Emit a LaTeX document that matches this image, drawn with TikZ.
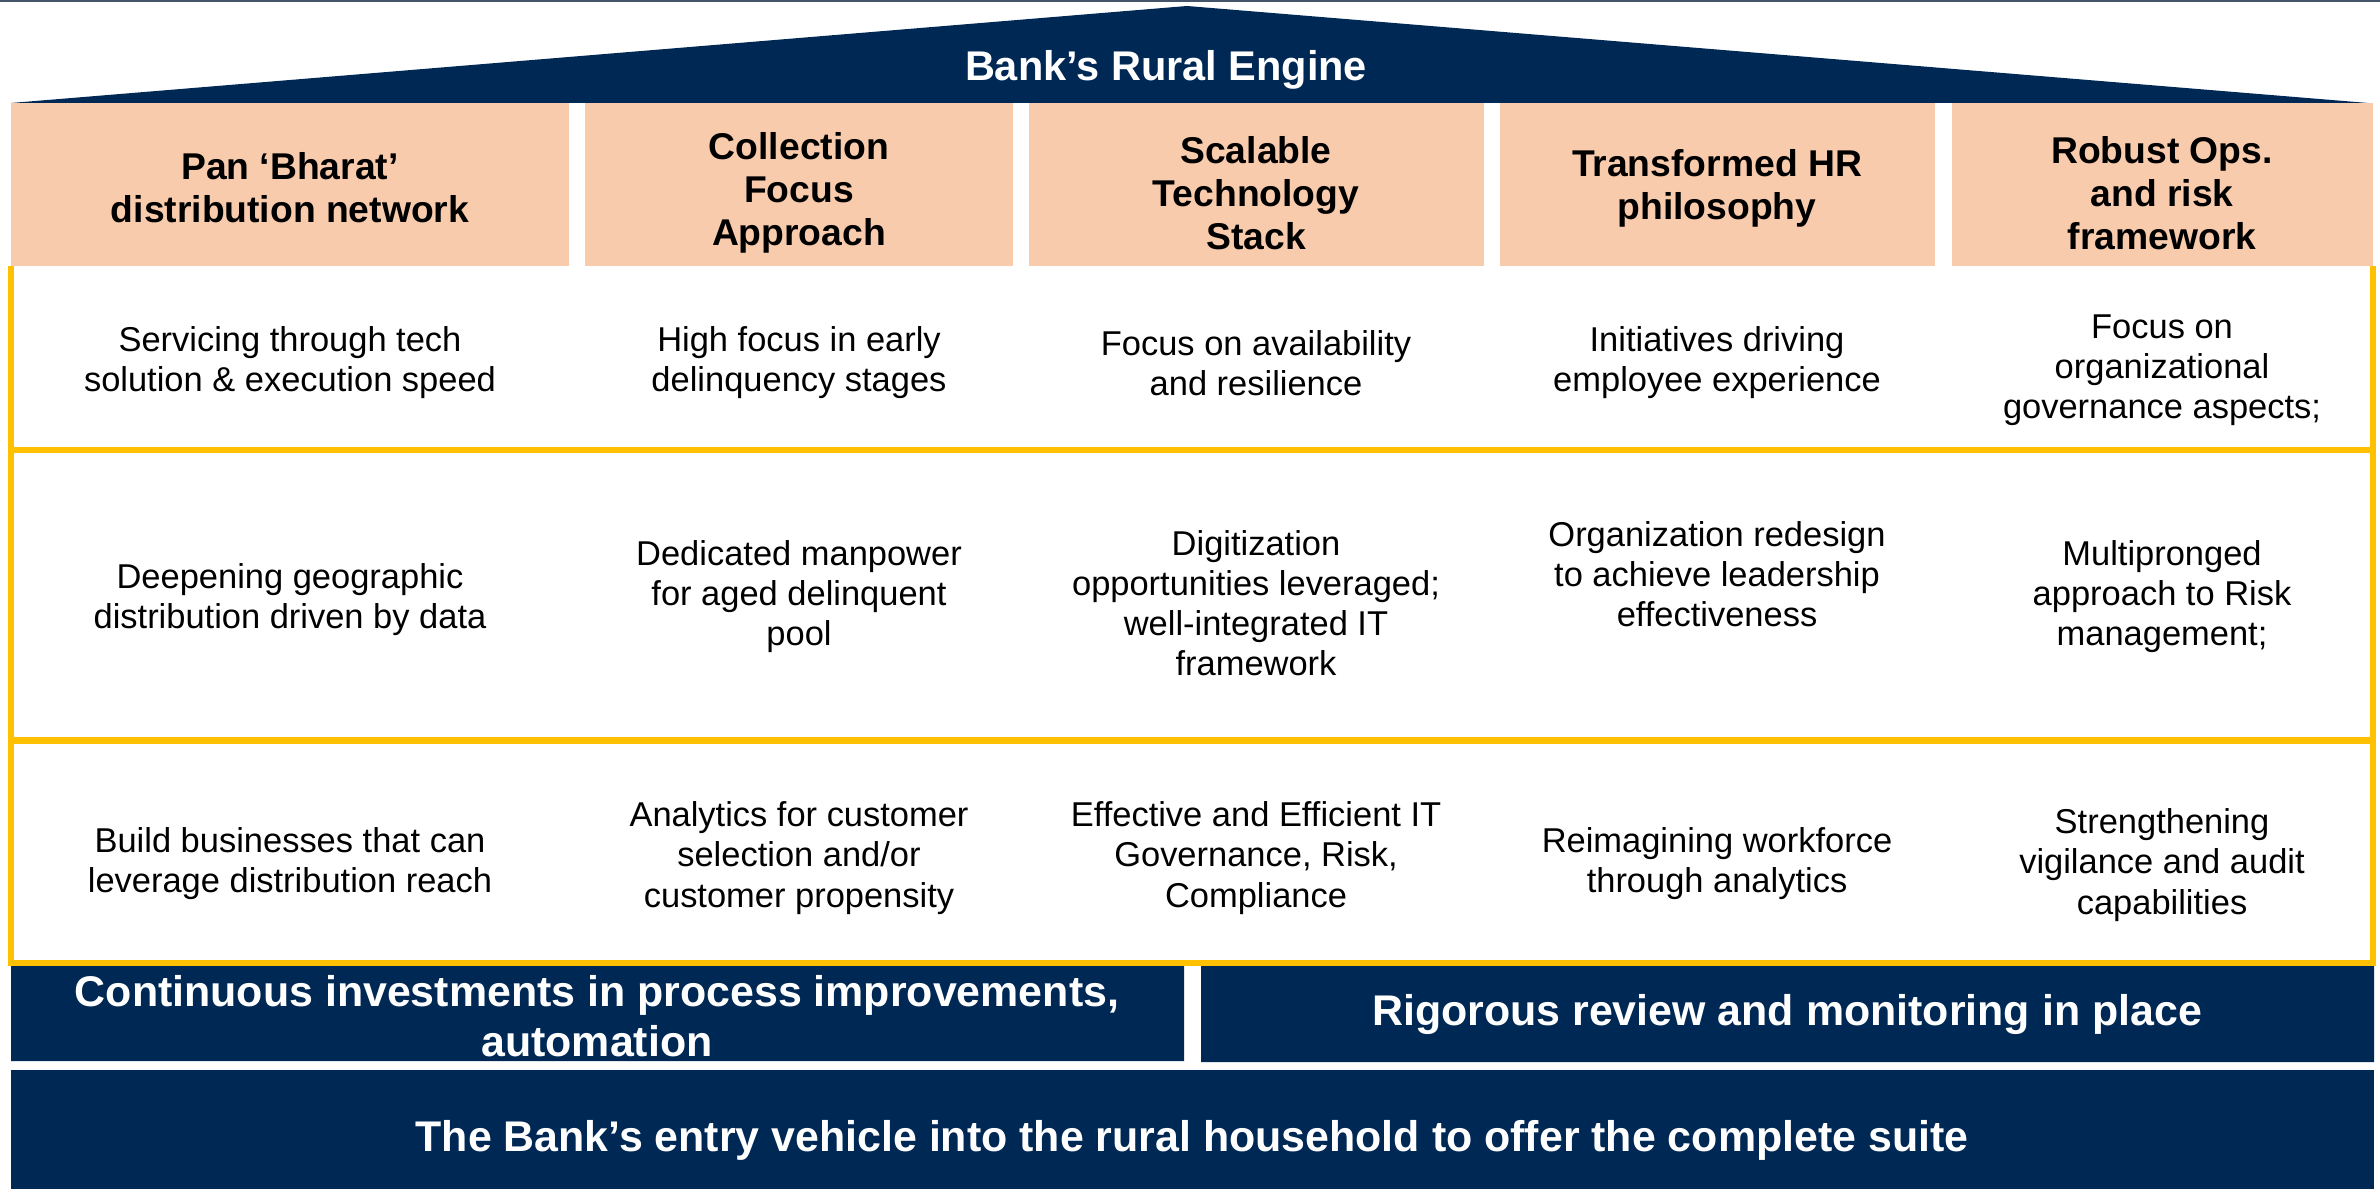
\documentclass[tikz,border=0pt]{standalone}
\usepackage{fontspec}
\setmainfont{Liberation Sans}
\definecolor{navy}{RGB}{0,40,85}
\definecolor{peach}{RGB}{248,203,173}
\definecolor{gold}{RGB}{255,192,0}
\definecolor{slate}{RGB}{68,84,106}
\tikzset{
  hdr/.style={font=\fontsize{10.6}{12.2}\selectfont\bfseries,align=center},
  cell/.style={font=\fontsize{9.8}{11.4}\selectfont,align=center},
  bartext/.style={font=\fontsize{12.2}{14.2}\selectfont\bfseries,text=white,align=center}
}
\begin{document}
\begin{tikzpicture}[x=0.01cm,y=-0.01cm]
\useasboundingbox (0,0) rectangle (2380,1189);
\fill[slate] (0,0) rectangle (2380,2.5);
% roof
\fill[navy] (11,103) -- (1187,6) -- (2368,103) -- cycle;
\node[bartext,font=\fontsize{11.8}{13.6}\selectfont\bfseries] (roof) at (1166,70) {Bank’s Rural Engine};
% pillars
\foreach \a/\b in {11/569,585/1013,1029/1484,1500/1935,1952/2373}
  \fill[peach] (\a,103) rectangle (\b,266);
\node[hdr] (h1) at (290,188) {Pan ‘Bharat’\\distribution network};
\node[hdr] (h2) at (799,193) {Collection\\Focus\\Approach};
\node[hdr] (h3) at (1256,193) {Scalable\\Technology\\Stack};
\node[hdr] (h4) at (1717,188) {Transformed HR\\philosophy};
\node[hdr] (h5) at (2162,193) {Robust Ops.\\and risk\\framework};
% grid
\draw[gold,line width=0.06cm] (11,266) -- (11,963) -- (2373,963) -- (2373,266);
\draw[gold,line width=0.06cm] (11,450) -- (2373,450) (11,740.5) -- (2373,740.5);
\node[cell] (c11) at (290,363) {Servicing through tech\\solution \& execution speed};
\node[cell] (c12) at (799,363) {High focus in early\\delinquency stages};
\node[cell] (c13) at (1256,363) {Focus on availability\\and resilience};
\node[cell] (c14) at (1717,363) {Initiatives driving\\employee experience};
\node[cell] (c15) at (2162,370) {Focus on\\organizational\\governance aspects;};
\node[cell] (c21) at (290,600) {Deepening geographic\\distribution driven by data};
\node[cell] (c22) at (799,597) {Dedicated manpower\\for aged delinquent\\pool};
\node[cell] (c23) at (1256,603) {Digitization\\opportunities leveraged;\\well-integrated IT\\framework};
\node[cell] (c24) at (1717,574) {Organization redesign\\to achieve leadership\\effectiveness};
\node[cell] (c25) at (2162,597) {Multipronged\\approach to Risk\\management;};
\node[cell] (c31) at (290,864) {Build businesses that can\\leverage distribution reach};
\node[cell] (c32) at (799,858) {Analytics for customer\\selection and/or\\customer propensity};
\node[cell] (c33) at (1256,858) {Effective and Efficient IT\\Governance, Risk,\\Compliance};
\node[cell] (c34) at (1717,864) {Reimagining workforce\\through analytics};
\node[cell] (c35) at (2162,865) {Strengthening\\vigilance and audit\\capabilities};
% foundation
\fill[navy] (11,966) rectangle (1184,1061) (1201,966) rectangle (2374,1062);
\fill[navy] (11,1070) rectangle (2374,1189);
\node[bartext] (b1) at (597,1016) {Continuous investments in process improvements,\\automation};
\node[bartext] (b2) at (1787,1014) {Rigorous review and monitoring in place};
\node[bartext] (base) at (1192,1140) {The Bank’s entry vehicle into the rural household to offer the complete suite};
\end{tikzpicture}
\end{document}
